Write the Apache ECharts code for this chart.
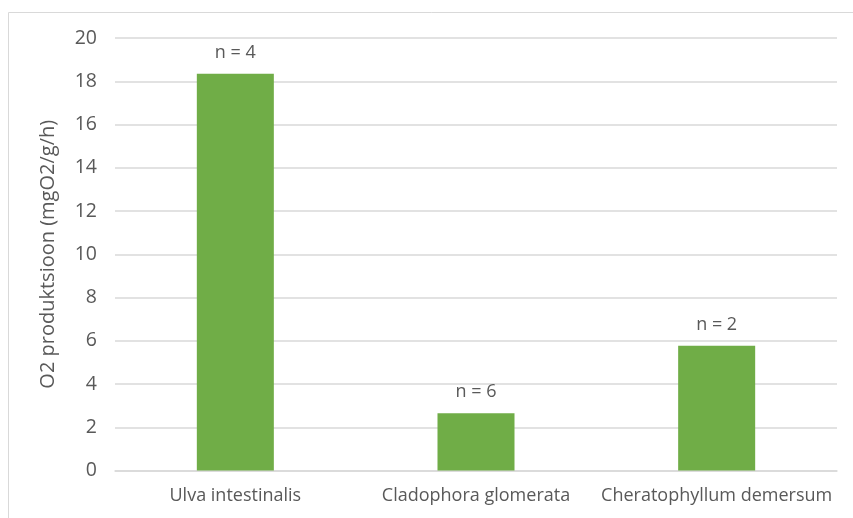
<!DOCTYPE html>
<html>
<head>
<meta charset="utf-8">
<script src="https://cdn.jsdelivr.net/npm/echarts@6/dist/echarts.min.js"></script>
<style>
  html, body { margin: 0; padding: 0; background: #fff; }
  #container { width: 853px; height: 518px; }
</style>
</head>
<body>
<div id="container"></div>
<script>
// andmed
var categories = ['Ulva intestinalis', 'Cladophora glomerata', 'Cheratophyllum demersum'];
var values = [18.35, 2.65, 5.77];
var sampleLabels = ['n = 4', 'n = 6', 'n = 2'];
var yTicks = [0, 20, 2]; // min, max, interval

window.onload = function () {
  var myChart = echarts.init(document.getElementById('container'));
  var txt = '#595959';
  var font = 'Open Sans';
  myChart.setOption({
    animation: false,
    graphic: [{
      type: 'rect',
      shape: { x: 8.5, y: 12.5, width: 900, height: 600 },
      style: { fill: 'none', stroke: '#d9d9d9', lineWidth: 1 },
      silent: true
    }],
    grid: { left: 115, right: 16, top: 38, bottom: 47.5, containLabel: false },
    xAxis: {
      type: 'category',
      data: categories,
      axisLine: { show: true, lineStyle: { color: '#d9d9d9', width: 1.5 } },
      axisTick: { show: false },
      axisLabel: { color: txt, fontSize: 18, fontFamily: font, margin: 16, interval: 0, hideOverlap: false }
    },
    yAxis: {
      type: 'value',
      min: yTicks[0],
      max: yTicks[1],
      interval: yTicks[2],
      name: 'O2 produktsioon (mgO2/g/h)',
      nameLocation: 'middle',
      nameGap: 57,
      nameTextStyle: { color: txt, fontSize: 20, fontFamily: font },
      axisLine: { show: false },
      axisTick: { show: false },
      axisLabel: { color: txt, fontSize: 19.5, fontFamily: font, margin: 18 },
      splitLine: { lineStyle: { color: '#d9d9d9', width: 1.5 } }
    },
    series: [{
      type: 'bar',
      data: values,
      barWidth: '32%',
      itemStyle: { color: '#70ad47' },
      label: {
        show: true,
        position: 'top',
        distance: 12,
        color: txt,
        fontSize: 18,
        fontFamily: font,
        formatter: function (p) { return sampleLabels[p.dataIndex]; }
      }
    }]
  });
};
</script>
</body>
</html>
